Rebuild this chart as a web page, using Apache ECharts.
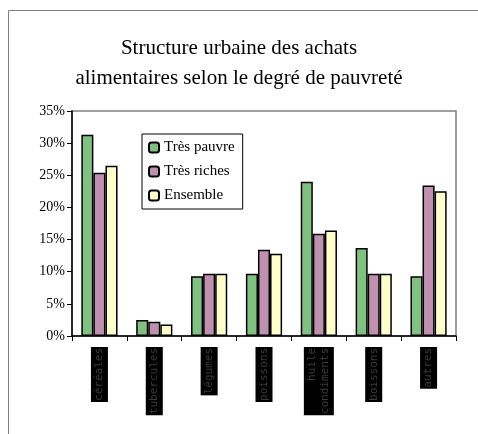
<!DOCTYPE html>
<html>
<head>
<meta charset="utf-8">
<script src="https://cdn.jsdelivr.net/npm/echarts@6/dist/echarts.min.js"></script>
<style>
  html, body { margin: 0; padding: 0; background: #fff; }
  #chart { width: 478px; height: 434px; }
</style>
</head>
<body>
<div id="chart"></div>
<script>
// postes de dépense
const categories = ['céréales', 'tubercules', 'légumes', 'poissons', 'huile\ncondiments', 'boissons', 'autres'];

// part des achats (%)
const tresPauvres = [31.3, 2.5, 9.3, 9.7, 24.0, 13.7, 9.3];
const tresRiches = [25.4, 2.2, 9.7, 13.4, 15.9, 9.7, 23.4];
const ensemble = [26.5, 1.8, 9.7, 12.8, 16.4, 9.7, 22.5];

const yTicks = [0, 5, 10, 15, 20, 25, 30, 35];

const chart = echarts.init(document.getElementById('chart'), null, { renderer: 'canvas' });

const serif = '"Liberation Serif", "DejaVu Serif", serif';

function barSeries(name, data, color) {
  return {
    name: name,
    type: 'bar',
    data: data,
    barGap: '0%',
    barCategoryGap: '34%',
    itemStyle: { color: color, borderColor: '#000', borderWidth: 1.5 }
  };
}

chart.setOption({
  animation: false,
  graphic: [
    {
      type: 'rect',
      shape: { x: 8.5, y: 10.5, width: 480, height: 440 },
      style: { fill: 'none', stroke: '#808080', lineWidth: 1 },
      silent: true
    }
  ],
  title: {
    text: 'Structure urbaine des achats\nalimentaires selon le degré de pauvreté',
    left: 'center',
    top: 28,
    textStyle: {
      fontFamily: serif,
      fontWeight: 'normal',
      fontSize: 21,
      color: '#000',
      lineHeight: 30
    }
  },
  legend: {
    orient: 'vertical',
    left: 142,
    top: 134,
    itemWidth: 10,
    itemHeight: 10,
    itemGap: 9,
    padding: [6, 8, 6, 6],
    borderColor: '#000',
    borderWidth: 1,
    backgroundColor: '#fff',
    textStyle: { fontFamily: serif, fontSize: 15, color: '#000' },
    data: ['Très pauvre', 'Très riches', 'Ensemble']
  },
  grid: {
    left: 72,
    right: 22,
    top: 111,
    bottom: 98,
    show: true,
    borderColor: '#808080',
    borderWidth: 1.5
  },
  xAxis: {
    type: 'category',
    data: categories,
    axisLine: { lineStyle: { color: '#000', width: 1.5 } },
    axisTick: { show: true, length: 5, lineStyle: { color: '#000' } },
    axisLabel: {
      rotate: 90,
      margin: 11,
      interval: 0,
      fontFamily: '"DejaVu Sans Mono", monospace',
      fontSize: 11,
      color: '#3a3a3a',
      backgroundColor: '#000',
      padding: [2, 1, 2, 1],
      lineHeight: 13
    }
  },
  yAxis: {
    type: 'value',
    min: yTicks[0],
    max: yTicks[yTicks.length - 1],
    interval: 5,
    splitLine: { show: false },
    axisLine: { show: true, lineStyle: { color: '#000', width: 1.5 } },
    axisTick: { show: true, length: 5, lineStyle: { color: '#000' } },
    axisLabel: {
      formatter: '{value}%',
      fontFamily: serif,
      fontSize: 14,
      color: '#000',
      margin: 7
    }
  },
  series: [
    barSeries('Très pauvre', tresPauvres, '#80C080'),
    barSeries('Très riches', tresRiches, '#C090B0'),
    barSeries('Ensemble', ensemble, '#FFFFCC')
  ]
});
</script>
</body>
</html>
